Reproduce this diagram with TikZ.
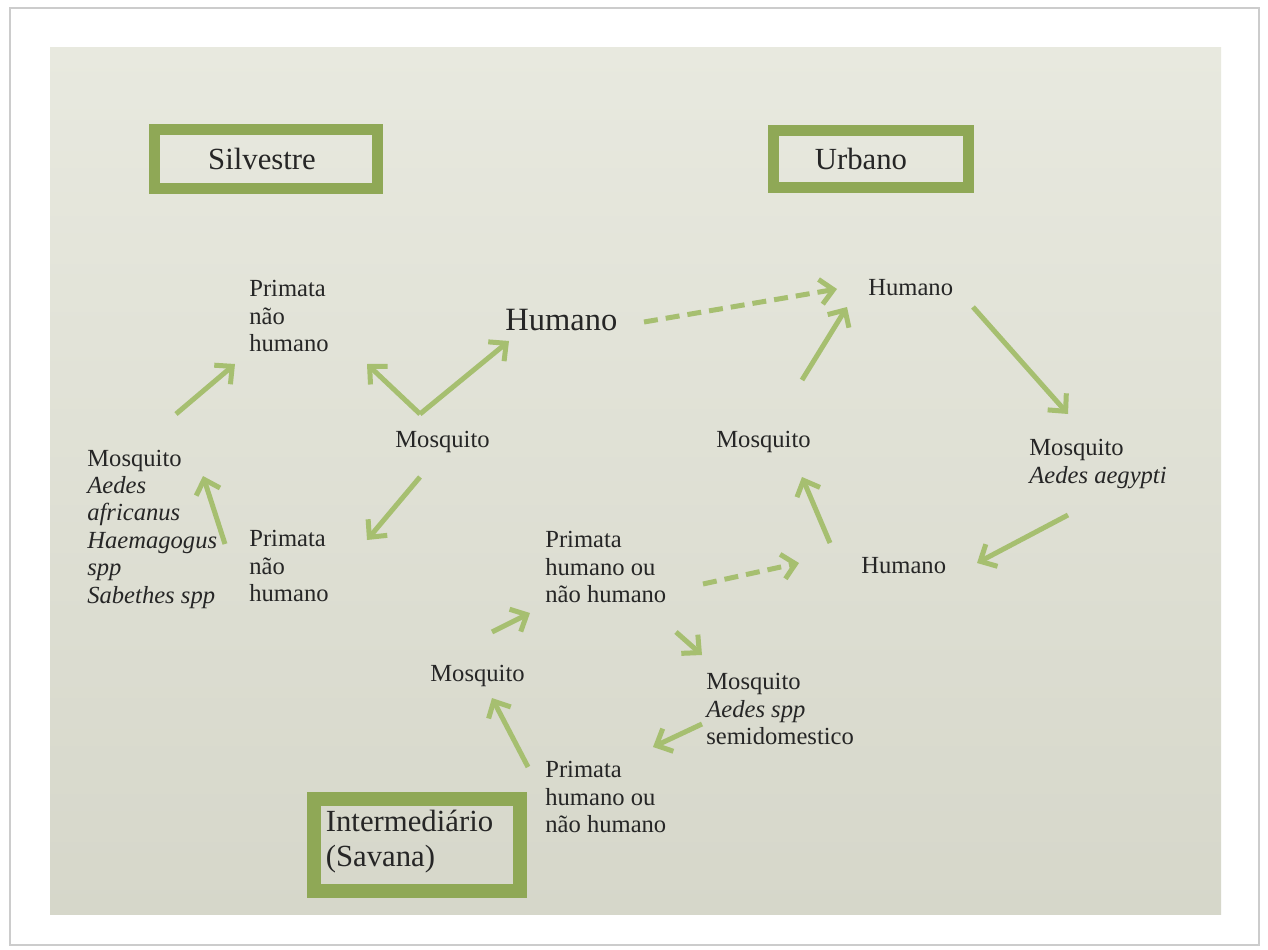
\documentclass[tikz,border=0pt]{standalone}
\usepackage{fontspec}
\setmainfont{Liberation Serif}
\usetikzlibrary{arrows.meta}
\definecolor{boxgreen}{HTML}{8FA856}
\definecolor{arrgreen}{HTML}{A6BF70}
\definecolor{paneltop}{HTML}{E8E9DF}
\definecolor{panelbot}{HTML}{D6D7CA}
\begin{document}
\begin{tikzpicture}[x=0.02cm,y=-0.02cm,
    txt/.style={anchor=west,align=left,inner sep=0pt,text=black!85,font=\fontsize{14}{15.6}\selectfont},
    big/.style={anchor=west,inner sep=0pt,text=black!85,font=\fontsize{18.5}{21}\selectfont},
    zone/.style={draw=boxgreen,align=left,inner sep=0pt,text=black!85,font=\fontsize{17.5}{20}\selectfont},
    arr/.style={draw=arrgreen,line width=0.1cm,-{Straight Barb[length=0.26cm,width=0.5cm]}}]
  \useasboundingbox (0,0) rectangle (1268,950);
  \fill[white] (0,0) rectangle (1268,950);
  \draw[black!20,line width=0.05cm] (10,8) rectangle (1259,945);
  \shade[top color=paneltop,bottom color=panelbot] (50,47) rectangle (1221,914);
  \draw
    (266,159) node[zone,line width=0.22cm,minimum width=4.46cm,minimum height=1.17cm] (silv){Silvestre\hspace{0.16cm}}
    (871,159) node[zone,line width=0.22cm,minimum width=3.9cm,minimum height=1.14cm] (urb){Urbano\hspace{0.4cm}}
    (417,845) node[zone,line width=0.28cm,minimum width=4.12cm,minimum height=1.84cm] (inter){Intermediário\hspace*{0.3cm}\\(Savana)\vspace*{0.15cm}}
    (249,316) node[txt] (pnhA){Primata\\não\\humano}
    (505,320) node[big] (humA){Humano}
    (395,442) node[txt] (mosqA){Mosquito}
    (87,529) node[txt] (mosqS){Mosquito\\\textit{Aedes}\\\textit{africanus}\\\textit{Haemagogus}\\\textit{spp}\\\textit{Sabethes spp}}
    (249,566) node[txt] (pnhB){Primata\\não\\humano}
    (868,288) node[txt] (humU){Humano}
    (716,442) node[txt] (mosqU){Mosquito}
    (1029,464) node[txt] (mosqAe){Mosquito\\\textit{Aedes aegypti}}
    (861,566) node[txt] (humV){Humano}
    (545,567) node[txt] (primM){Primata\\humano ou\\não humano}
    (430,676) node[txt] (mosqI){Mosquito}
    (706,709) node[txt] (mosqSp){Mosquito\\\textit{Aedes spp}\\semidomestico}
    (545,797) node[txt] (primI){Primata\\humano ou\\não humano};
  \begin{scope}[arr]
    \draw ([shift={(89,-115)}]mosqS.west) to ([shift={(-14,48)}]pnhA.west);
    \draw ([shift={(-24,-22)}]pnhB.west) to ([shift={(116,-53)}]mosqS.west);
    \draw ([shift={(25,-28)}]mosqA.west) to ([shift={(118,48)}]pnhA.west);
    \draw ([shift={(25,-28)}]mosqA.west) to ([shift={(4,21)}]humA.west);
    \draw ([shift={(25,35)}]mosqA.west) to ([shift={(118,-26)}]pnhB.west);
    \draw[dashed,dash pattern=on 0.28cm off 0.16cm] ([shift={(139,2)}]humA.west) to ([shift={(-31,1)}]humU.west);
    \draw ([shift={(86,-62)}]mosqU.west) to ([shift={(-21,19)}]humU.west);
    \draw ([shift={(105,19)}]humU.west) to ([shift={(39,-50)}]mosqAe.west);
    \draw ([shift={(39,51)}]mosqAe.west) to ([shift={(116,-3)}]humV.west);
    \draw ([shift={(-31,-23)}]humV.west) to ([shift={(86,35)}]mosqU.west);
    \draw[dashed,dash pattern=on 0.28cm off 0.16cm] ([shift={(158,17)}]primM.west) to ([shift={(-62,-3)}]humV.west);
    \draw ([shift={(131,65)}]primM.west) to ([shift={(-4,-54)}]mosqSp.west);
    \draw ([shift={(-4,15)}]mosqSp.west) to ([shift={(108,-50)}]primI.west);
    \draw ([shift={(-17,-30)}]primI.west) to ([shift={(62,22)}]mosqI.west);
    \draw ([shift={(62,-44)}]mosqI.west) to ([shift={(-15,46)}]primM.west);
  \end{scope}
\end{tikzpicture}
\end{document}
